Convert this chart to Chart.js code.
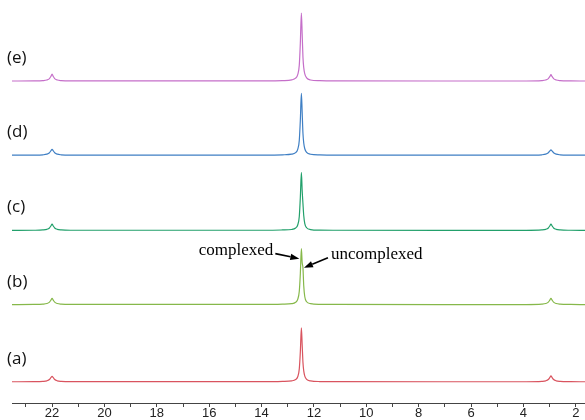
<!DOCTYPE html>
<html>
<head>
<meta charset="utf-8">
<script src="https://cdn.jsdelivr.net/npm/chart.js@4"></script>
<style>
  html, body { margin: 0; padding: 0; background: #fff; }
  #wrap { width: 585px; height: 420px; }
</style>
</head>
<body>
<div id="wrap"><canvas id="nmrChart"></canvas></div>
<script>
// chemical shift positions (ppm) shared by all traces
const ppm = [23.53, 22.7, 22.35, 22.2, 22.1, 22.04, 22.0, 21.96, 21.9, 21.8, 21.65, 21.3,
  13.8, 13.2, 12.85, 12.7, 12.62, 12.56, 12.52, 12.48, 12.45, 12.42, 12.39, 12.35, 12.28, 12.13, 11.78, 11.2,
  3.9, 3.3, 3.15, 3.05, 2.99, 2.95, 2.91, 2.85, 2.75, 2.6, 2.2, 1.65];

const traceA = [0.2, 0.3, 0.6, 1.1, 2.4, 4.5, 5.5, 4.5, 2.4, 1.1, 0.6, 0.3,
  0.3, 0.6, 1.1, 2.4, 5.2, 13, 30, 54, 37, 19.5, 11, 5.8, 2.6, 1.0, 0.4, 0.3,
  0.2, 0.6, 1.1, 2.4, 4.5, 6.0, 4.5, 2.4, 1.1, 0.6, 0.3, 0.2];
const traceB = [0.2, 0.3, 0.6, 1.2, 2.6, 4.8, 6.5, 4.8, 2.6, 1.2, 0.6, 0.3,
  0.3, 0.6, 1.1, 2.5, 5.4, 13.5, 31, 56, 42, 37, 19, 8, 3.0, 1.1, 0.4, 0.3,
  0.2, 0.6, 1.2, 2.6, 4.8, 6.5, 4.8, 2.6, 1.2, 0.6, 0.3, 0.2];
const traceC = [0.2, 0.3, 0.6, 1.2, 2.6, 4.8, 6.5, 4.8, 2.6, 1.2, 0.6, 0.3,
  0.3, 0.6, 1.1, 2.6, 5.6, 14, 33, 58, 40, 27, 15, 7, 2.8, 1.0, 0.4, 0.3,
  0.2, 0.6, 1.2, 2.6, 4.8, 6.5, 4.8, 2.6, 1.2, 0.6, 0.3, 0.2];
const traceD = [0.2, 0.3, 0.6, 1.2, 2.6, 4.8, 6.0, 4.8, 2.6, 1.2, 0.6, 0.3,
  0.3, 0.6, 1.2, 2.8, 6, 15, 35, 62, 43, 22, 12.4, 6.6, 3.0, 1.1, 0.5, 0.3,
  0.2, 0.6, 1.2, 2.6, 4.5, 5.5, 4.5, 2.6, 1.2, 0.6, 0.3, 0.2];
const traceE = [0.2, 0.3, 0.6, 1.2, 2.6, 5.0, 7.0, 5.0, 2.6, 1.2, 0.6, 0.3,
  0.3, 0.6, 1.3, 3.0, 6.5, 16, 38, 68, 47, 24, 13.5, 7.3, 3.3, 1.2, 0.5, 0.3,
  0.2, 0.6, 1.2, 2.6, 4.8, 6.5, 4.8, 2.6, 1.2, 0.6, 0.3, 0.2];

const traceLabels = ['(a)', '(b)', '(c)', '(d)', '(e)'];
const traceOffsets = [21, 98, 172, 247, 321];
const traceColors = ['#d9545f', '#86b84a', '#22a06b', '#3f7fc4', '#c56fc9'];
const traces = [traceA, traceB, traceC, traceD, traceE];

const xTicks = [22, 20, 18, 16, 14, 12, 10, 8, 6, 4, 2];

// stacked datasets: each trace lifted by its offset
const datasets = traces.map((vals, i) => ({
  label: traceLabels[i],
  data: ppm.map((x, j) => ({ x: x, y: vals[j] + traceOffsets[i] })),
  borderColor: traceColors[i],
  borderWidth: 1.2,
  pointRadius: 0,
  fill: false,
  cubicInterpolationMode: 'monotone'
}));

// (a) ... (e) labels at the left of each trace
const traceLabelPlugin = {
  id: 'traceLabels',
  afterDatasetsDraw(chart) {
    const ctx = chart.ctx;
    const y = chart.scales.y;
    ctx.save();
    ctx.font = '17px "Open Sans", sans-serif';
    ctx.fillStyle = '#111';
    ctx.textBaseline = 'middle';
    ctx.textAlign = 'left';
    traceLabels.forEach((t, i) => {
      ctx.fillText(t, 7, y.getPixelForValue(traceOffsets[i] + 23));
    });
    ctx.restore();
  }
};

function arrow(ctx, x1, y1, x2, y2) {
  const ang = Math.atan2(y2 - y1, x2 - x1);
  const len = 9, half = 3.2;
  const bx = x2 - len * Math.cos(ang), by = y2 - len * Math.sin(ang);
  ctx.beginPath();
  ctx.moveTo(x1, y1);
  ctx.lineTo(bx, by);
  ctx.stroke();
  ctx.beginPath();
  ctx.moveTo(x2, y2);
  ctx.lineTo(bx + half * Math.sin(ang), by - half * Math.cos(ang));
  ctx.lineTo(bx - half * Math.sin(ang), by + half * Math.cos(ang));
  ctx.closePath();
  ctx.fill();
}

// complexed / uncomplexed callouts on trace (b)
const calloutPlugin = {
  id: 'callouts',
  afterDatasetsDraw(chart) {
    const ctx = chart.ctx;
    const xs = chart.scales.x, ys = chart.scales.y;
    const tip1x = xs.getPixelForValue(12.52) - 1;
    const tip1y = ys.getPixelForValue(traceOffsets[1] + 46);
    const tip2x = xs.getPixelForValue(12.42) + 1;
    const tip2y = ys.getPixelForValue(traceOffsets[1] + 37);
    ctx.save();
    ctx.fillStyle = '#000';
    ctx.strokeStyle = '#000';
    ctx.lineWidth = 1.6;
    ctx.font = '17px "Liberation Serif", "Times New Roman", serif';
    ctx.textBaseline = 'middle';
    ctx.textAlign = 'right';
    ctx.fillText('complexed', tip1x - 26, tip1y - 8);
    arrow(ctx, tip1x - 24, tip1y - 5, tip1x, tip1y);
    ctx.textAlign = 'left';
    ctx.fillText('uncomplexed', tip2x + 27, tip2y - 13);
    arrow(ctx, tip2x + 24, tip2y - 10, tip2x, tip2y);
    ctx.restore();
  }
};

new Chart(document.getElementById('nmrChart'), {
  type: 'line',
  data: { datasets: datasets },
  options: {
    responsive: true,
    maintainAspectRatio: false,
    animation: false,
    layout: { padding: { left: 12, right: 0, top: 0, bottom: 0 } },
    plugins: { legend: { display: false }, tooltip: { enabled: false } },
    scales: {
      x: {
        type: 'linear',
        reverse: true,
        min: 1.65,
        max: 23.53,
        afterBuildTicks(scale) {
          const t = [];
          for (let v = 23; v >= 2; v--) t.push({ value: v });
          scale.ticks = t;
        },
        grid: { drawOnChartArea: false, drawTicks: true, tickLength: 4, color: '#444' },
        border: { display: true, color: '#444', width: 1 },
        ticks: {
          autoSkip: false,
          maxRotation: 0,
          padding: 0,
          color: '#222',
          font: { family: '"Liberation Sans", Arial, sans-serif', size: 13, lineHeight: 1 },
          callback: (v) => (xTicks.includes(v) ? String(v) : '')
        }
      },
      y: { display: false, min: 0, max: 402 }
    }
  },
  plugins: [traceLabelPlugin, calloutPlugin]
});
</script>
</body>
</html>
